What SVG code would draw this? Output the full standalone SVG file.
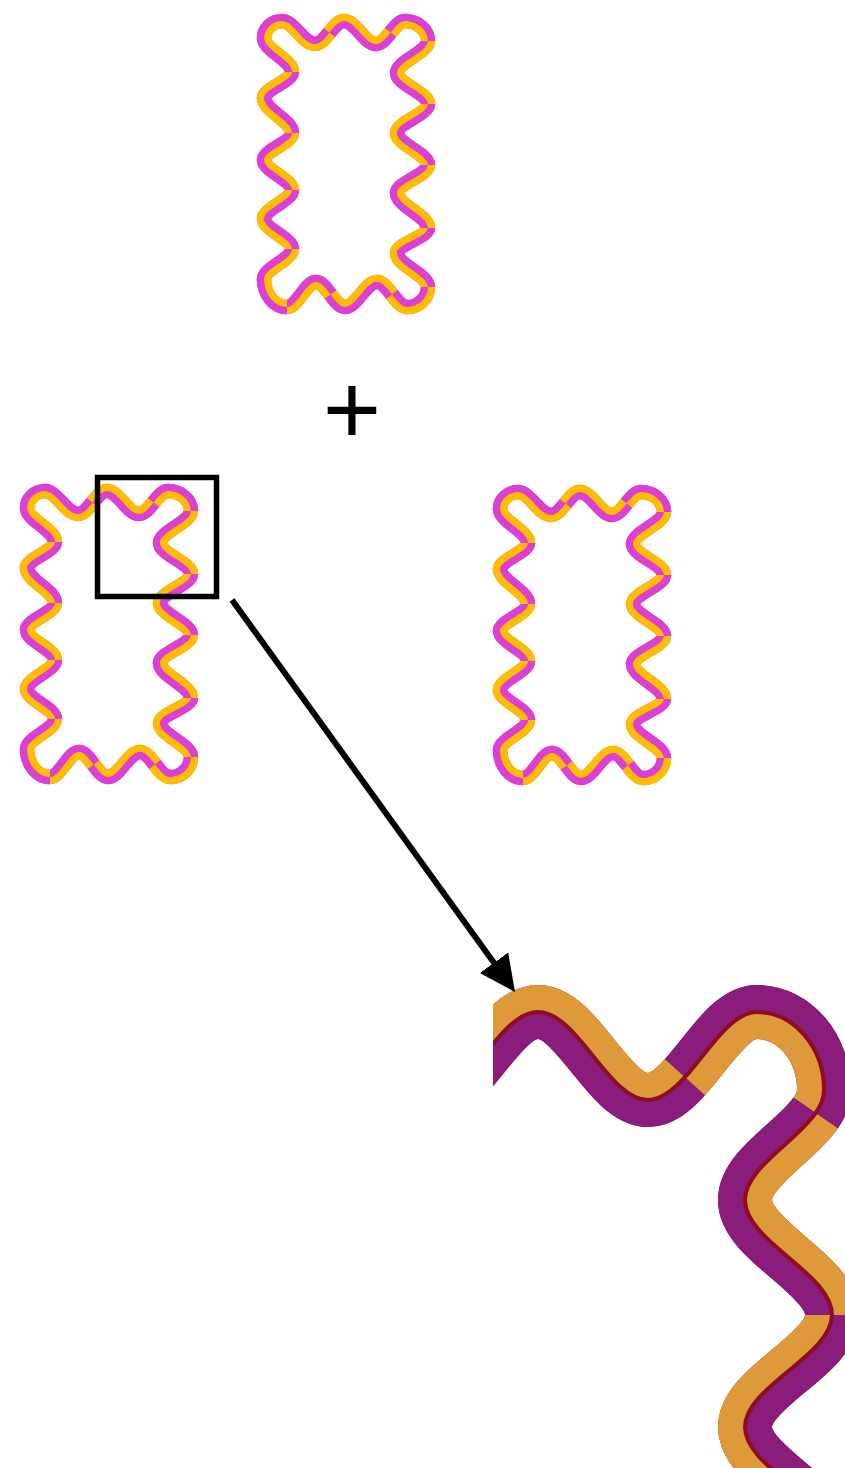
<svg xmlns="http://www.w3.org/2000/svg" xmlns:xlink="http://www.w3.org/1999/xlink" width="845" height="1468" viewBox="0 0 845 1468">
<style>
.band{fill:none;stroke-width:14.5;stroke-linecap:butt;stroke-linejoin:round}
.m{stroke:#DB3FD6}
.y{stroke:#FFBC00}
.seam{stroke:#F0604A}
.eband{fill:none;stroke-width:54;stroke-linecap:butt;stroke-linejoin:round}
.p{stroke:#8A1C7C}
.o{stroke:#DE9A3A}
.er{stroke:#8E0C24}
.frame{fill:none;stroke:#000;stroke-width:5.5}
.conn{fill:none;stroke:#000;stroke-width:6;stroke-linecap:butt}
.plus{font-family:"Liberation Sans",Arial,sans-serif;font-size:100px;fill:#000}
</style>
<defs>
<path id="full" d="M292,72 C292,59.76 264,50.24 264,38 C264,28.65 272.1,21 282,21 C293.88,21 303.12,44 315,44 C320.22,44 324.86,38.25 329.5,32.5 C334.14,26.75 338.78,21 344,21 C355.52,21 364.48,44 376,44 C381.22,44 385.86,38.25 390.5,32.5 C395.14,26.75 399.78,21 405,21 C417.65,21 428,30 428,41 C428,52.52 397,61.48 397,73 C397,84.16 428,92.84 428,104 C428,114.44 397,122.56 397,133 C397,144.52 428,153.48 428,165 C428,175.08 397,182.92 397,193 C397,205.6 428,215.4 428,228 C428,237 397,244 397,253 C397,265.24 428,274.76 428,287 C428,298 418.55,307 407,307 C401.6,307 396.8,300.75 392,294.5 C387.2,288.25 382.4,282 377,282 C365.48,282 356.52,307 345,307 C339.78,307 335.14,300.75 330.5,294.5 C325.86,288.25 321.22,282 316,282 C305.56,282 297.44,307 287,307 C274.35,307 264,294.4 264,279 C264,268.2 292,259.8 292,249 C292,238.2 264,229.8 264,219 C264,208.56 292,200.44 292,190 C292,179.2 264,170.8 264,160 C264,150.28 292,142.72 292,133 C292,120.4 264,110.6 264,98 C264,88.64 292,81.36 292,72 Z"/>
<path id="segM" d="M292,72 C292,59.76 264,50.24 264,38 C264,28.65 272.1,21 282,21 C293.88,21 303.12,44 315,44 C320.22,44 324.86,38.25 329.5,32.5 M390.5,32.5 C395.14,26.75 399.78,21 405,21 C417.65,21 428,30 428,41 M428,104 C428,114.44 397,122.56 397,133 C397,144.52 428,153.48 428,165 M428,228 C428,237 397,244 397,253 C397,265.24 428,274.76 428,287 M392,294.5 C387.2,288.25 382.4,282 377,282 C365.48,282 356.52,307 345,307 C339.78,307 335.14,300.75 330.5,294.5 M287,307 C274.35,307 264,294.4 264,279 C264,268.2 292,259.8 292,249 M292,190 C292,179.2 264,170.8 264,160 C264,150.28 292,142.72 292,133"/>
<path id="segY" d="M329.5,32.5 C334.14,26.75 338.78,21 344,21 C355.52,21 364.48,44 376,44 C381.22,44 385.86,38.25 390.5,32.5 M428,41 C428,52.52 397,61.48 397,73 C397,84.16 428,92.84 428,104 M428,165 C428,175.08 397,182.92 397,193 C397,205.6 428,215.4 428,228 M428,287 C428,298 418.55,307 407,307 C401.6,307 396.8,300.75 392,294.5 M330.5,294.5 C325.86,288.25 321.22,282 316,282 C305.56,282 297.44,307 287,307 M292,249 C292,238.2 264,229.8 264,219 C264,208.56 292,200.44 292,190 M292,133 C292,120.4 264,110.6 264,98 C264,88.64 292,81.36 292,72"/>
<clipPath id="cin"><path d="M292,72 C292,59.76 264,50.24 264,38 C264,28.65 272.1,21 282,21 C293.88,21 303.12,44 315,44 C320.22,44 324.86,38.25 329.5,32.5 C334.14,26.75 338.78,21 344,21 C355.52,21 364.48,44 376,44 C381.22,44 385.86,38.25 390.5,32.5 C395.14,26.75 399.78,21 405,21 C417.65,21 428,30 428,41 C428,52.52 397,61.48 397,73 C397,84.16 428,92.84 428,104 C428,114.44 397,122.56 397,133 C397,144.52 428,153.48 428,165 C428,175.08 397,182.92 397,193 C397,205.6 428,215.4 428,228 C428,237 397,244 397,253 C397,265.24 428,274.76 428,287 C428,298 418.55,307 407,307 C401.6,307 396.8,300.75 392,294.5 C387.2,288.25 382.4,282 377,282 C365.48,282 356.52,307 345,307 C339.78,307 335.14,300.75 330.5,294.5 C325.86,288.25 321.22,282 316,282 C305.56,282 297.44,307 287,307 C274.35,307 264,294.4 264,279 C264,268.2 292,259.8 292,249 C292,238.2 264,229.8 264,219 C264,208.56 292,200.44 292,190 C292,179.2 264,170.8 264,160 C264,150.28 292,142.72 292,133 C292,120.4 264,110.6 264,98 C264,88.64 292,81.36 292,72 Z"/></clipPath>
<clipPath id="cout"><path clip-rule="evenodd" d="M-3000,-3000 H4000 V4000 H-3000 Z M292,72 C292,59.76 264,50.24 264,38 C264,28.65 272.1,21 282,21 C293.88,21 303.12,44 315,44 C320.22,44 324.86,38.25 329.5,32.5 C334.14,26.75 338.78,21 344,21 C355.52,21 364.48,44 376,44 C381.22,44 385.86,38.25 390.5,32.5 C395.14,26.75 399.78,21 405,21 C417.65,21 428,30 428,41 C428,52.52 397,61.48 397,73 C397,84.16 428,92.84 428,104 C428,114.44 397,122.56 397,133 C397,144.52 428,153.48 428,165 C428,175.08 397,182.92 397,193 C397,205.6 428,215.4 428,228 C428,237 397,244 397,253 C397,265.24 428,274.76 428,287 C428,298 418.55,307 407,307 C401.6,307 396.8,300.75 392,294.5 C387.2,288.25 382.4,282 377,282 C365.48,282 356.52,307 345,307 C339.78,307 335.14,300.75 330.5,294.5 C325.86,288.25 321.22,282 316,282 C305.56,282 297.44,307 287,307 C274.35,307 264,294.4 264,279 C264,268.2 292,259.8 292,249 C292,238.2 264,229.8 264,219 C264,208.56 292,200.44 292,190 C292,179.2 264,170.8 264,160 C264,150.28 292,142.72 292,133 C292,120.4 264,110.6 264,98 C264,88.64 292,81.36 292,72 Z"/></clipPath>
<g id="wavy">
<use href="#full" class="band seam"/>
<g clip-path="url(#cin)">
<use href="#segM" class="band y"/>
<use href="#segY" class="band m"/>
</g>
<g clip-path="url(#cout)">
<use href="#segM" class="band m"/>
<use href="#segY" class="band y"/>
</g>
</g>
<path id="eFull" d="M428,1100 C467.6,1100 498.4,1012 538,1012 C577.6,1012 608.4,1100 648,1100 C661.08,1100 673.19,1090.22 684.98,1077.18 C708.55,1051.11 730.84,1012 757,1012 C793.85,1012 824,1047.1 824,1090 C824,1097.92 820.84,1105.49 815.78,1112.85 C795.56,1142.27 745,1168.32 745,1200 C745,1241.4 832,1273.6 832,1315 C832,1355.3 745,1386.7 745,1427 C745,1467.7 832,1499.3 832,1540"/>
<path id="eO" d="M428,1100 C467.6,1100 498.4,1012 538,1012 C577.6,1012 608.4,1100 648,1100 C661.08,1100 673.19,1090.22 684.98,1077.18 M815.78,1112.85 C795.56,1142.27 745,1168.32 745,1200 C745,1241.4 832,1273.6 832,1315"/>
<path id="eP" d="M684.98,1077.18 C708.55,1051.11 730.84,1012 757,1012 C793.85,1012 824,1047.1 824,1090 C824,1097.92 820.84,1105.49 815.78,1112.85 M832,1315 C832,1355.3 745,1386.7 745,1427 C745,1467.7 832,1499.3 832,1540"/>
<clipPath id="ein"><path d="M428,1100 C467.6,1100 498.4,1012 538,1012 C577.6,1012 608.4,1100 648,1100 C661.08,1100 673.19,1090.22 684.98,1077.18 C708.55,1051.11 730.84,1012 757,1012 C793.85,1012 824,1047.1 824,1090 C824,1097.92 820.84,1105.49 815.78,1112.85 C795.56,1142.27 745,1168.32 745,1200 C745,1241.4 832,1273.6 832,1315 C832,1355.3 745,1386.7 745,1427 C745,1467.7 832,1499.3 832,1540 L832,1600 L300,1600 L300,1100 Z"/></clipPath>
<clipPath id="eout"><path clip-rule="evenodd" d="M-3000,-3000 H4000 V4000 H-3000 Z M428,1100 C467.6,1100 498.4,1012 538,1012 C577.6,1012 608.4,1100 648,1100 C661.08,1100 673.19,1090.22 684.98,1077.18 C708.55,1051.11 730.84,1012 757,1012 C793.85,1012 824,1047.1 824,1090 C824,1097.92 820.84,1105.49 815.78,1112.85 C795.56,1142.27 745,1168.32 745,1200 C745,1241.4 832,1273.6 832,1315 C832,1355.3 745,1386.7 745,1427 C745,1467.7 832,1499.3 832,1540 L832,1600 L300,1600 L300,1100 Z"/></clipPath>
<clipPath id="eframe"><rect x="493" y="930" width="400" height="600"/></clipPath>
<marker id="head" markerUnits="userSpaceOnUse" viewBox="0 0 36 36" markerWidth="36" markerHeight="36" refX="25" refY="18" orient="auto">
<path d="M0,0.5 L36,18 L0,35.5 Z" fill="#000"/>
</marker>
</defs>
<rect width="845" height="1468" fill="#fff"/>
<g id="shape-top"><use href="#wavy"/></g>
<g id="shape-bottom-left"><use href="#wavy" transform="translate(-237,470)"/></g>
<g id="shape-bottom-right"><use href="#wavy" transform="translate(236,471)"/></g>
<g id="plus"><text class="plus" x="352" y="444" text-anchor="middle">+</text></g>
<g id="zoom-box"><rect class="frame" x="97.5" y="477.5" width="119" height="119"/></g>
<g id="detail" clip-path="url(#eframe)">
<use href="#eFull" class="eband er"/>
<g clip-path="url(#ein)">
<use href="#eO" class="eband p"/>
<use href="#eP" class="eband o"/>
</g>
<g clip-path="url(#eout)">
<use href="#eO" class="eband o"/>
<use href="#eP" class="eband p"/>
</g>
<use href="#eFull" class="er" style="fill:none;stroke-width:4"/>
</g>
<g id="connectors">
<line class="conn" x1="232" y1="600" x2="508.6" y2="983.1" marker-end="url(#head)"/>
</g>
</svg>
